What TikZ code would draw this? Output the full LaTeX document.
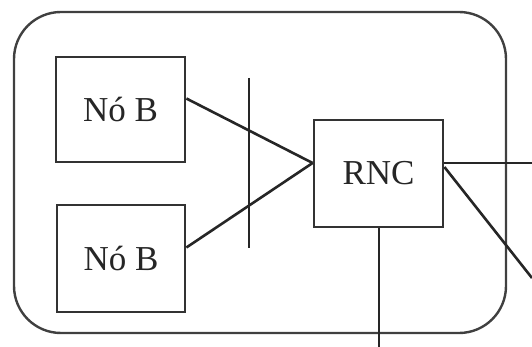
\documentclass[tikz,border=0pt]{standalone}
\usepackage{fontspec}
\setmainfont{Liberation Serif}
\begin{document}
\begin{tikzpicture}[x=1pt,y=-1pt,
  ln/.style={line width=2.6pt, black!85},
  boxn/.style={draw, line width=2.8pt, black!80, text=black!85, inner sep=0pt, font=\fontsize{35}{40}\selectfont}]
\useasboundingbox (0,0) rectangle (532,347);
\node[draw, line width=2.4pt, black!75, rounded corners=47pt, minimum width=492pt, minimum height=321pt] (area) at (260,172.5) {};
\node[boxn, minimum width=129pt, minimum height=105pt] (nb1) at (120.5,109.5) {Nó B};
\node[boxn, minimum width=128pt, minimum height=107pt] (nb2) at (121,258.5) {Nó B};
\node[boxn, minimum width=129pt, minimum height=107pt] (rnc) at (378.5,173.5) {RNC};
\coordinate (vt) at (249,78);
\coordinate (vb) at (249,248);
\coordinate (outr) at (532,163);
\coordinate (outd) at (532,278);
\coordinate (outb) at (379,347);
\draw[ln] (vt) -- (vb);
\draw[ln] ([yshift=11pt]nb1.east) -- ([yshift=10.5pt]rnc.west);
\draw[ln] ([yshift=11pt]nb2.east) -- ([yshift=10.5pt]rnc.west);
\draw[ln] ([yshift=10.5pt]rnc.east) -- (outr);
\draw[ln] ([yshift=6.5pt]rnc.east) -- (outd);
\draw[ln] ([xshift=0.5pt]rnc.south) -- (outb);
\end{tikzpicture}
\end{document}
